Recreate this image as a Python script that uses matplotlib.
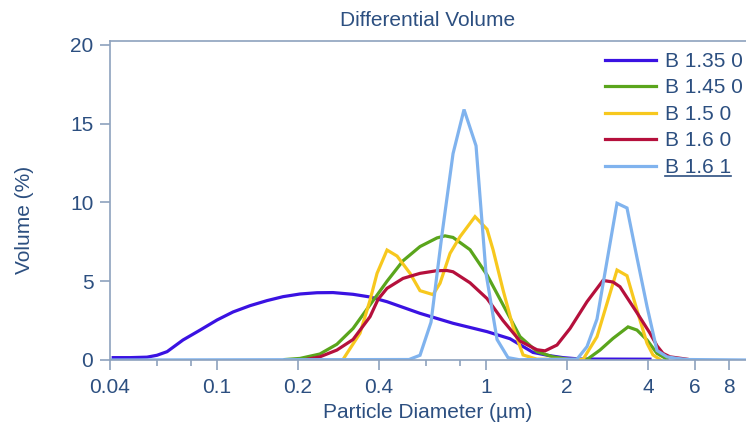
import matplotlib
matplotlib.use('Agg')
import matplotlib.pyplot as plt
from matplotlib.lines import Line2D

plt.rcParams['font.family'] = ['Liberation Sans', 'DejaVu Sans']

# values: diameter (um) and volume (%)
labels = ['B 1.35 0', 'B 1.45 0', 'B 1.5 0', 'B 1.6 0', 'B 1.6 1']
colors = ['#3a12e2', '#5aa51c', '#f7c81e', '#b5103c', '#80b3ee']

d_b135 = [0.0411, 0.0475, 0.0549, 0.0598, 0.0652, 0.0747, 0.0865, 0.1, 0.1147, 0.1327,
          0.1534, 0.1759, 0.2035, 0.2353, 0.2699, 0.3203, 0.3705, 0.4285, 0.5683, 0.754,
          1.0086, 1.228, 1.495, 1.729, 1.932, 2.236, 4.07]
v_b135 = [0.15, 0.15, 0.18, 0.3, 0.53, 1.27, 1.9, 2.54, 3.05, 3.45,
          3.77, 4.02, 4.19, 4.27, 4.28, 4.17, 4.0, 3.7, 2.96, 2.33,
          1.8, 1.35, 0.48, 0.27, 0.15, 0.06, 0.05]

d_b145 = [0.179, 0.2035, 0.2411, 0.279, 0.3203, 0.3705, 0.4285, 0.4914, 0.5683, 0.6574,
          0.704, 0.754, 0.872, 1.0086, 1.157, 1.338, 1.547, 1.774, 2.053, 2.374,
          2.653, 2.966, 3.373, 3.641, 3.968, 4.322, 4.71]
v_b145 = [0.03, 0.1, 0.38, 1.0, 2.0, 3.5, 5.0, 6.3, 7.2, 7.75,
          7.88, 7.78, 7.0, 5.4, 3.5, 1.48, 0.53, 0.2, 0.03, 0.03,
          0.63, 1.37, 2.1, 1.9, 1.27, 0.42, 0.05]

d_b150 = [0.294, 0.304, 0.34, 0.3705, 0.3934, 0.4285, 0.4668, 0.5218, 0.5683, 0.6353,
          0.6745, 0.7349, 0.8006, 0.9101, 1.0086, 1.062, 1.157, 1.26, 1.338, 1.373,
          1.547, 2.294, 2.586, 2.818, 3.069, 3.343, 3.641, 3.968, 4.176, 4.435]
v_b150 = [0.03, 0.42, 1.7, 3.8, 5.5, 6.98, 6.6, 5.5, 4.4, 4.15,
          4.87, 6.77, 7.83, 9.1, 8.3, 7.0, 4.44, 2.1, 0.85, 0.32,
          0.05, 0.03, 1.48, 3.6, 5.71, 5.35, 3.17, 1.06, 0.32, 0.03]

d_b160 = [0.2124, 0.2411, 0.279, 0.3203, 0.3705, 0.3968, 0.4285, 0.4914, 0.5683, 0.6574,
          0.7162, 0.754, 0.872, 1.0086, 1.157, 1.338, 1.547, 1.657, 1.836, 2.053,
          2.374, 2.722, 2.966, 3.148, 3.641, 4.07, 4.322, 4.55, 4.831, 5.589]
v_b160 = [0.02, 0.2, 0.63, 1.3, 2.75, 3.85, 4.55, 5.18, 5.5, 5.67,
          5.68, 5.6, 4.9, 3.9, 2.5, 1.2, 0.65, 0.58, 0.95, 2.0,
          3.7, 5.05, 4.95, 4.65, 3.0, 1.7, 0.9, 0.42, 0.2, 0.05]

d_b161 = [0.04, 0.5173, 0.5683, 0.6245, 0.6863, 0.754, 0.8284, 0.918, 1.0, 1.099,
          1.207, 1.327, 2.179, 2.374, 2.586, 2.818, 3.069, 3.343, 3.641, 3.968,
          4.322, 4.71, 5.129, 5.589, 9.26]
v_b161 = [0.0, 0.03, 0.3, 2.4, 8.0, 13.1, 15.9, 13.6, 5.5, 1.3,
          0.15, 0.02, 0.05, 0.85, 2.6, 6.3, 9.95, 9.65, 6.5, 3.4,
          0.6, 0.2, 0.1, 0.03, 0.0]

series_d = [d_b135, d_b145, d_b150, d_b160, d_b161]
series_v = [v_b135, v_b145, v_b150, v_b160, v_b161]

major_ticks = [0.04, 0.1, 0.2, 0.4, 1, 2, 4, 6, 8]
major_labels = ['0.04', '0.1', '0.2', '0.4', '1', '2', '4', '6', '8']
minor_ticks = [0.06, 0.08, 0.6, 0.8]

text_col = '#2c4f80'
axis_col = '#8da2bd'

fig = plt.figure(figsize=(7.46, 4.28), dpi=100)
ax = fig.add_axes([0.1475, 0.1589, 0.8525, 0.7453])

for d, v, c, lab in zip(series_d, series_v, colors, labels):
    ax.plot(d, v, color=c, lw=2.3, label=lab, solid_joinstyle='miter')

ax.set_xscale('log')
ax.set_xlim(0.04, 9.26)
ax.set_ylim(0, 20.25)
ax.set_xticks(major_ticks)
ax.set_xticklabels(major_labels)
ax.set_xticks(minor_ticks, minor=True)
ax.set_xticklabels([], minor=True)
ax.set_yticks([0, 5, 10, 15, 20])

for s in ['left', 'top', 'bottom']:
    ax.spines[s].set_color(axis_col)
    ax.spines[s].set_linewidth(1.2)
ax.spines['right'].set_visible(False)

ax.tick_params(axis='both', which='major', colors=axis_col, labelcolor=text_col,
               labelsize=15, length=7, width=1.2)
ax.tick_params(axis='x', which='minor', colors=axis_col, length=4.5, width=1.2)
ax.tick_params(axis='x', which='major', pad=6)
ax.tick_params(axis='y', which='major', pad=5)

ax.set_title('Differential Volume', color=text_col, fontsize=15, pad=11)
ax.set_xlabel('Particle Diameter (µm)', color=text_col, fontsize=15, labelpad=4)
ax.set_ylabel('Volume (%)', color=text_col, fontsize=15)
ax.yaxis.set_label_coords(-0.12, 0.44)

leg = ax.legend(loc='upper left', bbox_to_anchor=(0.778, 0.966), frameon=False,
                fontsize=15, handlelength=2.45, handletextpad=0.45,
                labelspacing=0.36, borderpad=0, borderaxespad=0)
for t in leg.get_texts():
    t.set_color(text_col)

# underline under the last legend entry
fig.canvas.draw()
bb = leg.get_texts()[-1].get_window_extent()
fig.add_artist(Line2D([bb.x0, bb.x1], [bb.y0 + 1, bb.y0 + 1], transform=None,
                      color=text_col, lw=1.2))

fig.savefig('out.png', dpi=100)
